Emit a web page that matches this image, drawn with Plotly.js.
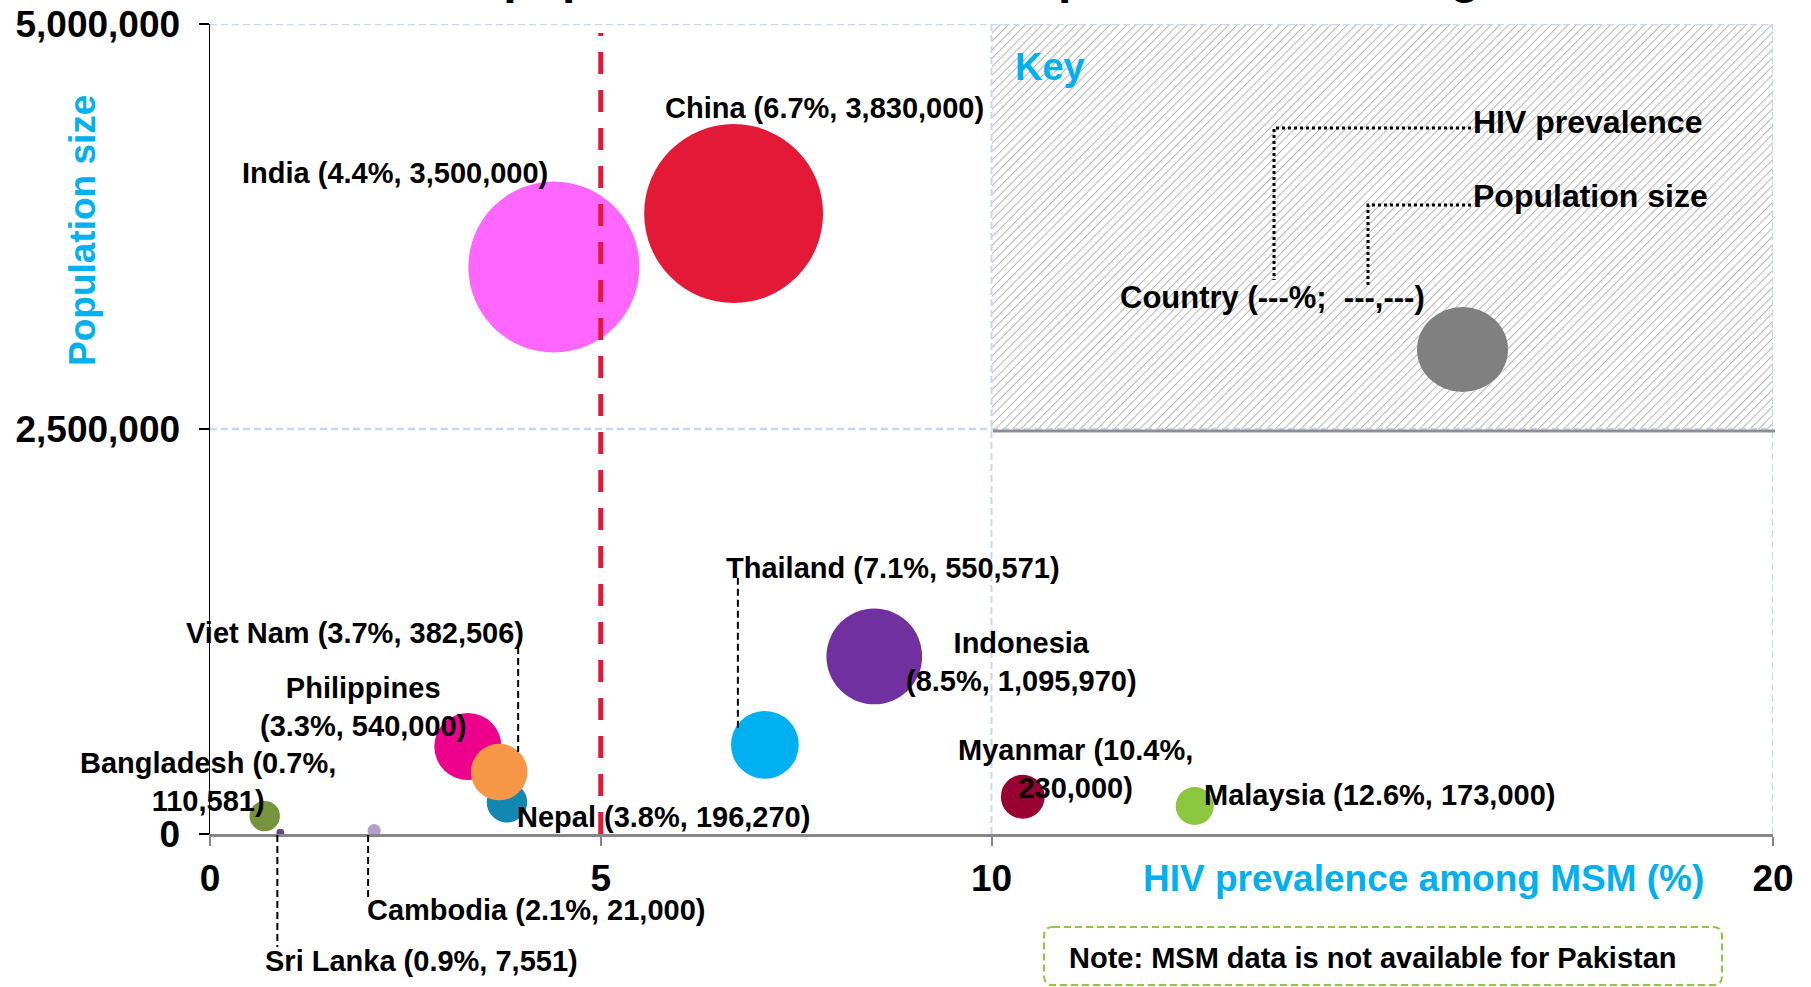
<!DOCTYPE html>
<html><head><meta charset="utf-8">
<script src="https://cdn.plot.ly/plotly-3.0.1.min.js"></script>
<style>html,body{margin:0;padding:0;background:#fff;}#chart{width:1811px;height:987px;}</style>
</head><body><div id="chart"></div>
<script>
// ---- data ----
const countries = ['China','India','Indonesia','Thailand','Philippines','Nepal','Viet Nam','Bangladesh','Sri Lanka','Cambodia','Myanmar','Malaysia'];
const hivPrevalence = [6.7, 4.4, 8.5, 7.1, 3.3, 3.8, 3.7, 0.7, 0.9, 2.1, 10.4, 12.6];
const populationSize = [3830000, 3500000, 1095970, 550571, 540000, 196270, 382506, 110581, 7551, 21000, 230000, 173000];
const xTickValues = [0, 5, 10, 20];
const yTickValues = [0, 2500000, 5000000];
const prevalenceThreshold = 5;
const chartTitle = 'MSM population size and HIV prevalence among MSM';
const xTitle = 'HIV prevalence among MSM (%)';
const yTitle = 'Population size';
const noteText = 'Note: MSM data is not available for Pakistan';
const keyTexts = ['Key', 'HIV prevalence', 'Population size', 'Country (---%;\u00a0 ---,---)'];

// ---- styles ----
const FONT = 'Liberation Sans, Arial, Helvetica, sans-serif';
const BLUE = '#00B0F0';
const colors = {
  'China':'#E31937','India':'#FF66FF','Indonesia':'#7030A0','Thailand':'#00B0F0',
  'Philippines':'#EC008C','Nepal':'#1187B1','Viet Nam':'#F79646','Bangladesh':'#77933C',
  'Sri Lanka':'#604A7B','Cambodia':'#B3A2C7','Myanmar':'#990033','Malaysia':'#8DC63F'
};
// label offsets (px) from bubble centre; wrap: 1 = after name, 2 = after prevalence
const labelStyle = {
  'China':{dx:91,dy:106,wrap:0}, 'India':{dx:-159,dy:94,wrap:0},
  'Indonesia':{dx:147,dy:-6,wrap:1}, 'Thailand':{dx:128,dy:177,wrap:0},
  'Philippines':{dx:-105,dy:40,wrap:1}, 'Nepal':{dx:157,dy:-15,wrap:0},
  'Viet Nam':{dx:-144,dy:139,wrap:0}, 'Bangladesh':{dx:-57,dy:34,wrap:2},
  'Sri Lanka':{dx:141,dy:-128,wrap:0}, 'Cambodia':{dx:162,dy:-79,wrap:0},
  'Myanmar':{dx:53,dy:28,wrap:2}, 'Malaysia':{dx:185,dy:11,wrap:0}
};
const leaders = {
  'Thailand':{dx:-27,from:167,to:15,ref:'y'},
  'Viet Nam':{dx:19,from:125,to:20,ref:'y'},
  'Sri Lanka':{dx:-3,from:-1,to:-113,ref:'paper'},
  'Cambodia':{dx:-6,from:-1,to:-63,ref:'paper'}
};

const M = {l:210, r:38, t:24, b:153};
const PW = 1811 - M.l - M.r, PH = 987 - M.t - M.b;
const px = X => (X - M.l) / PW;
const py = Y => (M.t + PH - Y) / PH;
const P = (X, Y) => px(X) + ',' + py(Y);

const fmt = v => v.toLocaleString('en-US');

const bubbles = {
  type:'scatter', mode:'markers', x: hivPrevalence, y: populationSize, text: countries,
  cliponaxis:false, hoverinfo:'text', showlegend:false,
  marker:{size: populationSize, sizemode:'area', sizeref:239.4,
    color: countries.map(c => colors[c]), line:{width:0}, opacity:1}
};

const annotations = [];
countries.forEach((c, i) => {
  const s = labelStyle[c];
  const pct = '(' + hivPrevalence[i] + '%,';
  const pop = fmt(populationSize[i]) + ')';
  let t;
  if (s.wrap === 1) t = c + '<br>' + pct + ' ' + pop;
  else if (s.wrap === 2) t = c + ' ' + pct + '<br>' + pop;
  else t = c + ' ' + pct + ' ' + pop;
  annotations.push({x: hivPrevalence[i], y: populationSize[i], xref:'x', yref:'y', text:t,
    showarrow:false, xanchor:'center', yanchor:'middle', xshift:s.dx, yshift:s.dy, align:'center',
    font:{family:FONT, size:29, color:'#000', weight:700}});
});

// title (clipped at top of page, as in the source)
annotations.push({xref:'paper', yref:'paper', x:0.5, y:py(5), xanchor:'center', yanchor:'bottom',
  text:chartTitle, showarrow:false, font:{family:FONT, size:48, color:'#000', weight:700}});
// axis titles
annotations.push({xref:'paper', yref:'paper', x:px(83), y:py(231), xanchor:'center', yanchor:'middle',
  text:yTitle, textangle:-90, showarrow:false, font:{family:FONT, size:37, color:BLUE, weight:700}});
annotations.push({xref:'paper', yref:'paper', x:px(1423), y:py(878), xanchor:'center', yanchor:'middle',
  text:xTitle, showarrow:false, font:{family:FONT, size:37, color:BLUE, weight:700}});
// note
annotations.push({xref:'paper', yref:'paper', x:px(1373), y:py(958), xanchor:'center', yanchor:'middle',
  text:noteText, showarrow:false, font:{family:FONT, size:29, color:'#000', weight:700}});
// key texts
annotations.push({xref:'paper', yref:'paper', x:px(1013), y:py(67), xanchor:'left', yanchor:'middle',
  text:keyTexts[0], showarrow:false, font:{family:FONT, size:38, color:BLUE, weight:700}});
annotations.push({xref:'paper', yref:'paper', x:px(1471), y:py(122), xanchor:'left', yanchor:'middle',
  text:keyTexts[1], showarrow:false, font:{family:FONT, size:32, color:'#000', weight:700}});
annotations.push({xref:'paper', yref:'paper', x:px(1471), y:py(196), xanchor:'left', yanchor:'middle',
  text:keyTexts[2], showarrow:false, font:{family:FONT, size:32, color:'#000', weight:700}});
annotations.push({xref:'paper', yref:'paper', x:px(1118), y:py(297), xanchor:'left', yanchor:'middle',
  text:keyTexts[3], showarrow:false, font:{family:FONT, size:31, color:'#000', weight:700}});

const GRID = '#C6D9F1';
const shapes = [];
// horizontal gridlines
yTickValues.filter(v => v > 0).forEach(v => shapes.push({type:'line', xref:'paper', yref:'y',
  x0:0, x1:1, y0:v, y1:v, layer:'above', line:{color:GRID, width:2.5, dash:'7px,4px'}}));
// vertical gridlines
[10, 20].forEach(v => shapes.push({type:'line', xref:'x', yref:'paper',
  x0:v, x1:v, y0:0, y1:1, layer:'above', line:{color:GRID, width:2, dash:'7px,4px'}}));
// key box shadow
shapes.push({type:'line', xref:'paper', yref:'paper', x0:px(993), x1:px(1775), y0:py(431), y1:py(431),
  layer:'above', line:{color:'#8f8f8f', width:3}});
// key gray bubble
shapes.push({type:'circle', xref:'paper', yref:'paper', x0:px(1417), x1:px(1508), y0:py(392), y1:py(307),
  fillcolor:'#808080', line:{width:0}, layer:'above'});
// key dotted connectors
shapes.push({type:'path', xref:'paper', yref:'paper', path:'M'+P(1471,128)+' L'+P(1274,128)+' L'+P(1274,280),
  line:{color:'#000', width:3, dash:'dot'}, layer:'above'});
shapes.push({type:'path', xref:'paper', yref:'paper', path:'M'+P(1471,205)+' L'+P(1368,205)+' L'+P(1368,285),
  line:{color:'#000', width:3, dash:'dot'}, layer:'above'});
// threshold line
shapes.push({type:'line', xref:'x', yref:'paper', x0:prevalenceThreshold, x1:prevalenceThreshold,
  y0:0, y1:py(33), layer:'above', line:{color:'#E31937', width:5, dash:'22px,16px'}});
// leader lines
countries.forEach((c, i) => {
  const L = leaders[c]; if (!L) return;
  shapes.push({type:'line', xref:'x', xsizemode:'pixel', xanchor:hivPrevalence[i], x0:L.dx, x1:L.dx,
    yref:L.ref, ysizemode:'pixel', yanchor: L.ref === 'y' ? populationSize[i] : 0, y0:L.from, y1:L.to,
    layer:'above', line:{color:'#000', width:2, dash:'7px,4px'}});
});
// note box (rounded, dashed green)
(function(){
  const x0=1044, x1=1722, y0=927, y1=985, r=9;
  const path = 'M'+P(x0+r,y0)+' L'+P(x1-r,y0)+' Q'+P(x1,y0)+' '+P(x1,y0+r)+
    ' L'+P(x1,y1-r)+' Q'+P(x1,y1)+' '+P(x1-r,y1)+' L'+P(x0+r,y1)+' Q'+P(x0,y1)+' '+P(x0,y1-r)+
    ' L'+P(x0,y0+r)+' Q'+P(x0,y0)+' '+P(x0+r,y0)+' Z';
  shapes.push({type:'path', xref:'paper', yref:'paper', path:path, layer:'above',
    line:{color:'#8DC63F', width:2, dash:'7px,4px'}});
})();

const hatchSvg = '<svg xmlns="http://www.w3.org/2000/svg" width="782" height="404" viewBox="0 0 782 404" preserveAspectRatio="none">' +
  '<defs><pattern id="h" width="6" height="6" patternUnits="userSpaceOnUse" patternTransform="rotate(45)">' +
  '<rect width="6" height="6" fill="#ffffff"/><line x1="0" y1="0" x2="0" y2="6" stroke="#b4b4b4" stroke-width="2"/></pattern></defs>' +
  '<rect width="782" height="404" fill="url(#h)"/></svg>';

const layout = {
  width:1811, height:987, margin:M, paper_bgcolor:'#ffffff', plot_bgcolor:'rgba(0,0,0,0)',
  showlegend:false, font:{family:FONT, color:'#000'},
  xaxis:{range:[0,20], tickvals:xTickValues, showgrid:false, zeroline:false, showline:true,
    linecolor:'#878787', linewidth:2.5, ticks:'outside', ticklen:9, tickwidth:2, tickcolor:'#878787',
    ticklabelstandoff:1, tickfont:{family:FONT, size:37, color:'#000', weight:700}, fixedrange:true},
  yaxis:{range:[0,5000000], tickvals:yTickValues, tickformat:',', showgrid:false, zeroline:false,
    showline:true, linecolor:'#000', linewidth:1.5, ticks:'outside', ticklen:10, tickwidth:1.5,
    tickcolor:'#000', ticklabelstandoff:11, tickfont:{family:FONT, size:37, color:'#000', weight:700}, fixedrange:true},
  images:[{source:'data:image/svg+xml;charset=utf-8,' + encodeURIComponent(hatchSvg), xref:'x', yref:'y',
    x:10, y:5000000, sizex:10, sizey:2500000, sizing:'stretch', xanchor:'left', yanchor:'top', layer:'below'}],
  shapes:shapes, annotations:annotations
};

Plotly.newPlot('chart', [bubbles], layout, {displayModeBar:false, staticPlot:true});
</script></body></html>
